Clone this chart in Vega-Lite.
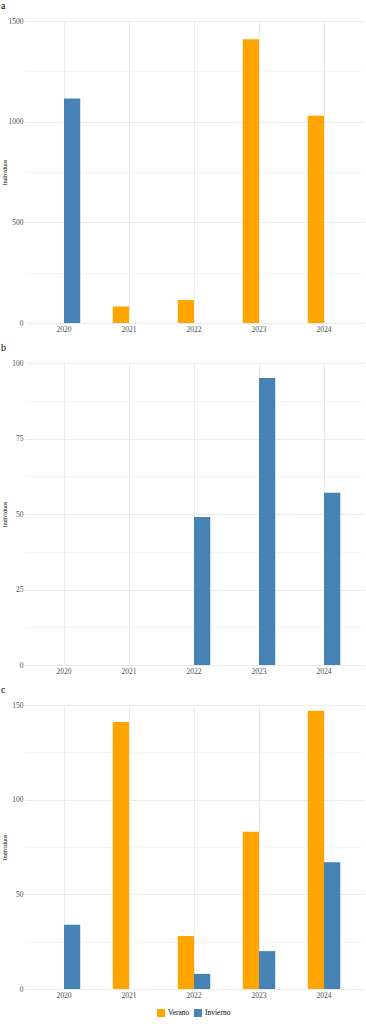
{
  "$schema": "https://vega.github.io/schema/vega-lite/v6.json",
  "padding": {"left": 1, "top": 1, "right": 3, "bottom": 2},
  "background": "white",
  "datasets": {
    "bars": [
      {"panel": "a", "year": "2020", "season": "Invierno", "value": 1115},
      {"panel": "a", "year": "2021", "season": "Verano", "value": 82},
      {"panel": "a", "year": "2022", "season": "Verano", "value": 114},
      {"panel": "a", "year": "2023", "season": "Verano", "value": 1409},
      {"panel": "a", "year": "2024", "season": "Verano", "value": 1029},
      {"panel": "b", "year": "2022", "season": "Invierno", "value": 49},
      {"panel": "b", "year": "2023", "season": "Invierno", "value": 95},
      {"panel": "b", "year": "2024", "season": "Invierno", "value": 57},
      {"panel": "c", "year": "2020", "season": "Invierno", "value": 34},
      {"panel": "c", "year": "2021", "season": "Verano", "value": 141},
      {"panel": "c", "year": "2022", "season": "Verano", "value": 28},
      {"panel": "c", "year": "2022", "season": "Invierno", "value": 8},
      {"panel": "c", "year": "2023", "season": "Verano", "value": 83},
      {"panel": "c", "year": "2023", "season": "Invierno", "value": 20},
      {"panel": "c", "year": "2024", "season": "Verano", "value": 147},
      {"panel": "c", "year": "2024", "season": "Invierno", "value": 67}
    ]
  },
  "config": {
    "font": "Liberation Serif",
    "view": {"stroke": null},
    "axis": {
      "domain": false,
      "ticks": false,
      "tickSize": 0,
      "labelFont": "Liberation Serif",
      "labelFontSize": 7.5,
      "labelColor": "#4d4d4d",
      "gridColor": "#ebebeb",
      "titleFont": "Liberation Serif",
      "titleFontWeight": "normal",
      "titleColor": "#000000"
    },
    "title": {"anchor": "start", "fontSize": 10, "fontWeight": "normal", "offset": 6, "color": "#000000", "font": "Liberation Serif"},
    "concat": {"spacing": 10}
  },
  "resolve": {"scale": {"color": "shared", "y": "independent"}},
  "vconcat": [
    {
      "title": "a",
      "width": 338,
      "height": 302,
      "data": {"name": "bars"},
      "transform": [{"filter": "datum.panel === 'a'"}],
      "mark": {"type": "bar"},
      "encoding": {
        "x": {"field": "year", "type": "nominal", "scale": {"domain": ["2020", "2021", "2022", "2023", "2024"], "paddingInner": 0, "paddingOuter": 0.1}, "axis": {"title": null, "labelAngle": 0, "bandPosition": 0.5, "grid": true, "gridWidth": 1, "labelPadding": 2}},
        "xOffset": {"field": "season", "type": "nominal", "scale": {"domain": ["Verano", "Invierno"], "paddingInner": 0, "paddingOuter": 1}},
        "y": {"field": "value", "type": "quantitative", "scale": {"domain": [0, 1500], "nice": false, "zero": true}, "axis": {"title": "Individuos", "titleFontSize": 6, "titlePadding": 1, "minExtent": 17, "maxExtent": 17, "labelPadding": 2, "format": "d", "values": [0, 250, 500, 750, 1000, 1250, 1500], "labelExpr": "datum.value % 500 === 0 ? datum.label : ''", "gridWidth": {"condition": {"test": "datum.value % 500 === 0", "value": 1}, "value": 0.5}}},
        "color": {"field": "season", "type": "nominal", "scale": {"domain": ["Verano", "Invierno"], "range": ["#FFA500", "#4682B4"]}, "legend": {"orient": "none", "legendX": 132, "legendY": 988, "direction": "horizontal", "title": null, "symbolType": "square", "symbolSize": 64, "symbolStrokeWidth": 0, "symbolOpacity": 1, "labelFontSize": 7.5, "labelFont": "Liberation Serif", "labelColor": "#000000", "labelOffset": 3, "columnPadding": 4}}
      }
    },
    {
      "title": "b",
      "width": 338,
      "height": 302,
      "data": {"name": "bars"},
      "transform": [{"filter": "datum.panel === 'b'"}],
      "mark": {"type": "bar"},
      "encoding": {
        "x": {"field": "year", "type": "nominal", "scale": {"domain": ["2020", "2021", "2022", "2023", "2024"], "paddingInner": 0, "paddingOuter": 0.1}, "axis": {"title": null, "labelAngle": 0, "bandPosition": 0.5, "grid": true, "gridWidth": 1, "labelPadding": 2}},
        "xOffset": {"field": "season", "type": "nominal", "scale": {"domain": ["Verano", "Invierno"], "paddingInner": 0, "paddingOuter": 1}},
        "y": {"field": "value", "type": "quantitative", "scale": {"domain": [0, 100], "nice": false, "zero": true}, "axis": {"title": "Individuos", "titleFontSize": 6, "titlePadding": 1, "minExtent": 17, "maxExtent": 17, "labelPadding": 2, "format": "d", "values": [0, 12.5, 25, 37.5, 50, 62.5, 75, 87.5, 100], "labelExpr": "datum.value % 25 === 0 ? datum.label : ''", "gridWidth": {"condition": {"test": "datum.value % 25 === 0", "value": 1}, "value": 0.5}}},
        "color": {"field": "season", "type": "nominal", "scale": {"domain": ["Verano", "Invierno"], "range": ["#FFA500", "#4682B4"]}, "legend": {"orient": "none", "legendX": 132, "legendY": 988, "direction": "horizontal", "title": null, "symbolType": "square", "symbolSize": 64, "symbolStrokeWidth": 0, "symbolOpacity": 1, "labelFontSize": 7.5, "labelFont": "Liberation Serif", "labelColor": "#000000", "labelOffset": 3, "columnPadding": 4}}
      }
    },
    {
      "title": "c",
      "width": 338,
      "height": 284,
      "data": {"name": "bars"},
      "transform": [{"filter": "datum.panel === 'c'"}],
      "mark": {"type": "bar"},
      "encoding": {
        "x": {"field": "year", "type": "nominal", "scale": {"domain": ["2020", "2021", "2022", "2023", "2024"], "paddingInner": 0, "paddingOuter": 0.1}, "axis": {"title": null, "labelAngle": 0, "bandPosition": 0.5, "grid": true, "gridWidth": 1, "labelPadding": 2}},
        "xOffset": {"field": "season", "type": "nominal", "scale": {"domain": ["Verano", "Invierno"], "paddingInner": 0, "paddingOuter": 1}},
        "y": {"field": "value", "type": "quantitative", "scale": {"domain": [0, 150], "nice": false, "zero": true}, "axis": {"title": "Individuos", "titleFontSize": 6, "titlePadding": 1, "minExtent": 17, "maxExtent": 17, "labelPadding": 2, "format": "d", "values": [0, 25, 50, 75, 100, 125, 150], "labelExpr": "datum.value % 50 === 0 ? datum.label : ''", "gridWidth": {"condition": {"test": "datum.value % 50 === 0", "value": 1}, "value": 0.5}}},
        "color": {"field": "season", "type": "nominal", "scale": {"domain": ["Verano", "Invierno"], "range": ["#FFA500", "#4682B4"]}, "legend": {"orient": "none", "legendX": 132, "legendY": 988, "direction": "horizontal", "title": null, "symbolType": "square", "symbolSize": 64, "symbolStrokeWidth": 0, "symbolOpacity": 1, "labelFontSize": 7.5, "labelFont": "Liberation Serif", "labelColor": "#000000", "labelOffset": 3, "columnPadding": 4}}
      }
    }
  ]
}
